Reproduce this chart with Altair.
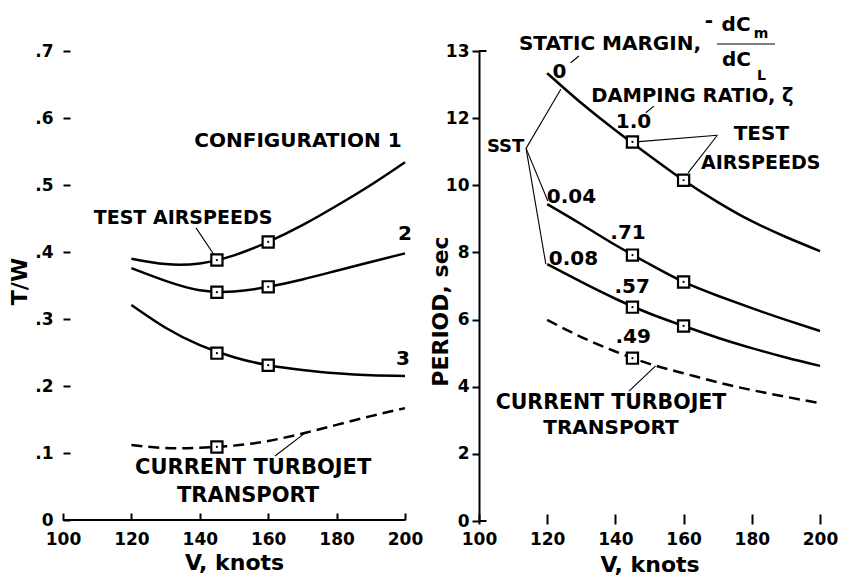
import altair as alt
import pandas as pd

FONT = "DejaVu Sans"

# Curves are read every 10 knots; test-airspeed squares are read separately.
v_grid = [120, 130, 140, 150, 160, 170, 180, 190, 200]

# ---------------- Left panel: T/W vs V, knots ----------------
tw_c1 = [0.390, 0.382, 0.383, 0.395, 0.415, 0.440, 0.469, 0.500, 0.534]
tw_c2 = [0.376, 0.357, 0.343, 0.341, 0.348, 0.359, 0.372, 0.385, 0.398]
tw_c3 = [0.321, 0.287, 0.261, 0.243, 0.231, 0.224, 0.219, 0.216, 0.215]
tw_ct = [0.112, 0.1075, 0.108, 0.111, 0.118, 0.129, 0.142, 0.155, 0.167]

# ---------------- Right panel: Period vs V, knots ----------------
p_s0 = [13.34, 12.45, 11.64, 10.88, 10.15, 9.50, 8.93, 8.46, 8.04]
p_s04 = [9.44, 8.84, 8.22, 7.65, 7.12, 6.71, 6.34, 5.99, 5.66]
p_s08 = [7.65, 7.12, 6.62, 6.18, 5.81, 5.46, 5.15, 4.87, 4.62]
p_pt = [5.99, 5.48, 5.05, 4.68, 4.40, 4.13, 3.90, 3.70, 3.51]

# test-airspeed squares
sq_v_left = [145, 160, 145, 160, 145, 160, 145]
sq_tw = [0.388, 0.415, 0.340, 0.348, 0.249, 0.231, 0.109]
sq_v_right = [145, 160, 145, 160, 145, 160, 145]
sq_p = [11.29, 10.15, 7.92, 7.12, 6.37, 5.81, 4.85]

v_ticks = [100, 120, 140, 160, 180, 200]
tw_ticks = [0, 0.1, 0.2, 0.3, 0.4, 0.5, 0.6, 0.7]
p_ticks = [0, 2, 4, 6, 8, 10, 12, 14]

# annotations (label, v, value, font size)
left_labels = ["CONFIGURATION 1", "2", "3", "TEST AIRSPEEDS", "CURRENT TURBOJET", "TRANSPORT"]
left_lab_v = [168.7, 200.0, 199.4, 135.1, 155.6, 154.1]
left_lab_y = [0.566, 0.427, 0.240, 0.451, 0.078, 0.036]
left_lab_fs = [20, 20, 20, 19, 21, 21]
left_lead_v = [138.9, 162.0]
left_lead_y = [0.436, 0.0955]
left_lead_v2 = [144.4, 170.8]
left_lead_y2 = [0.394, 0.130]

right_labels = ["STATIC MARGIN,", "-", "dC", "dC", "0", "DAMPING RATIO, \u03b6", "1.0", "TEST", "AIRSPEEDS",
                "SST", "0.04", "0.08", ".71", ".57", ".49", "CURRENT TURBOJET", "TRANSPORT", "m", "L"]
right_lab_v = [138.4, 167.4, 175.4, 175.5, 123.6, 162.6, 145.3, 182.8, 182.6,
               107.8, 127.1, 127.7, 143.7, 144.9, 145.2, 138.7, 138.7, 182.7, 182.8]
right_lab_y = [14.20, 14.89, 14.77, 13.74, 13.36, 12.66, 11.90, 11.52, 10.67,
               11.14, 9.66, 7.80, 8.59, 6.97, 5.49, 3.51, 2.77, 14.50, 13.25]
right_lab_fs = [20, 20, 20, 20, 20, 19.5, 20, 20, 19,
                18, 20, 20, 20, 20, 20, 20.5, 20, 14, 14]
right_lead_v = [126.9, 148.9, 169.9, 169.9, 113.8, 113.8, 113.8, 144.0, 169.8]
right_lead_y = [13.65, 12.16, 11.49, 11.49, 11.10, 11.10, 11.10, 3.87, 14.21]
right_lead_v2 = [129.3, 151.3, 146.9, 161.3, 124.0, 120.2, 119.6, 151.8, 186.8]
right_lead_y2 = [13.85, 12.36, 11.30, 10.37, 12.86, 9.53, 7.65, 4.62, 14.21]


def long_df(series):
    rows = []
    for name, ys in series.items():
        for v, y in zip(v_grid, ys):
            rows.append({"series": name, "v": v, "y": y})
    return pd.DataFrame(rows)


left_solid = {"1": tw_c1, "2": tw_c2, "3": tw_c3}
left_dash = {"ct": tw_ct}
right_solid = {"0": p_s0, "0.04": p_s04, "0.08": p_s08}
right_dash = {"ct": p_pt}

common_axis = dict(
    labelFont=FONT, labelFontSize=17, labelFontWeight="bold", labelColor="black",
    titleFont=FONT, titleFontSize=22, titleFontWeight="bold", titleColor="black",
    tickColor="black", tickWidth=2, grid=False, labelFlush=False, labelOverlap=False,
    titleBaseline="alphabetic",
)

lx_axis = alt.Axis(values=v_ticks, domain=False, tickSize=7, offset=-7, labelPadding=11,
                   title="V, knots", titleY=56, **common_axis)
ly_axis = alt.Axis(values=tw_ticks, domain=False, tickSize=7, offset=-7, labelPadding=10,
                   labelExpr="datum.value == 0 ? '0' : replace(format(datum.value, '.1f'), '0.', '.')",
                   title="T/W", titleX=-44, titleY=230, **common_axis)
rx_axis = alt.Axis(values=v_ticks, domain=False, tickSize=10, offset=-7, labelPadding=7,
                   title="V, knots", titleY=57, **common_axis)
ry_axis = alt.Axis(values=p_ticks, domain=True, domainColor="black", domainWidth=2,
                   tickSize=7, labelPadding=3,
                   labelExpr="datum.value == 14 ? '13' : datum.label",
                   title="PERIOD, sec", titleX=-32, titleY=260, **common_axis)

xs = alt.Scale(domain=[100, 200], nice=False, zero=False)
lys = alt.Scale(domain=[0, 0.7], nice=False)
rys = alt.Scale(domain=[0, 14], nice=False)


def panel(solid, dash, sq_v, sq_y, labels, lab_v, lab_y, lab_fs, lv, ly, lv2, ly2,
          xaxis, yaxis, yscale, stubs=None, w=342, h=469):
    X = alt.X("v:Q", scale=xs, axis=xaxis)
    Y = alt.Y("y:Q", scale=yscale, axis=yaxis)
    layers = []
    if stubs is not None:
        layers.append(alt.Chart(stubs).mark_rule(color="black", strokeWidth=2).encode(
            x=X, x2="v2:Q", y=Y))
    layers.append(alt.Chart(long_df(solid)).mark_line(
        color="black", strokeWidth=2.5, interpolate="natural").encode(
        x=X, y=Y, detail="series:N"))
    layers.append(alt.Chart(long_df(dash)).mark_line(
        color="black", strokeWidth=2.5, interpolate="natural", strokeDash=[11, 6]).encode(
        x=X, y=Y, detail="series:N"))
    leads = pd.DataFrame({"v": lv, "y": ly, "v2": lv2, "y2": ly2})
    layers.append(alt.Chart(leads).mark_rule(color="black", strokeWidth=1.1).encode(
        x=X, y=Y, x2="v2:Q", y2="y2:Q"))
    mk = pd.DataFrame({"v": sq_v, "y": sq_y})
    layers.append(alt.Chart(mk).mark_square(size=125, filled=True, color="white",
                                            stroke="black", strokeWidth=2.2, opacity=1).encode(x=X, y=Y))
    layers.append(alt.Chart(mk).mark_circle(size=5, color="black", opacity=1).encode(x=X, y=Y))
    txt = pd.DataFrame({"label": labels, "v": lab_v, "y": lab_y, "fs": lab_fs})
    layers.append(alt.Chart(txt).mark_text(font=FONT, fontWeight="bold", color="black",
                                           align="center", baseline="middle").encode(
        x=X, y=Y, text="label:N", size=alt.Size("fs:Q", scale=None)))
    return alt.layer(*layers).properties(width=w, height=h)


left_stubs = pd.DataFrame({"v": [100], "v2": [200], "y": [0]})
right_stubs = pd.DataFrame({"v": [100, 100], "v2": [102.2, 102.2], "y": [0, 14]})

left = panel(left_solid, left_dash, sq_v_left, sq_tw, left_labels, left_lab_v, left_lab_y, left_lab_fs,
             left_lead_v, left_lead_y, left_lead_v2, left_lead_y2,
             lx_axis, ly_axis, lys, stubs=left_stubs, w=342, h=469)
right = panel(right_solid, right_dash, sq_v_right, sq_p, right_labels, right_lab_v, right_lab_y, right_lab_fs,
              right_lead_v, right_lead_y, right_lead_v2, right_lead_y2,
              rx_axis, ry_axis, rys, stubs=right_stubs, w=341, h=470)

chart = alt.hconcat(left, right, spacing=6).resolve_scale(y="independent").properties(
    padding={"left": 0, "top": 3, "right": 0, "bottom": 0},
    background="white",
).configure_view(stroke=None)

chart.save("out.html", embed_options={"renderer": "svg", "actions": False})
